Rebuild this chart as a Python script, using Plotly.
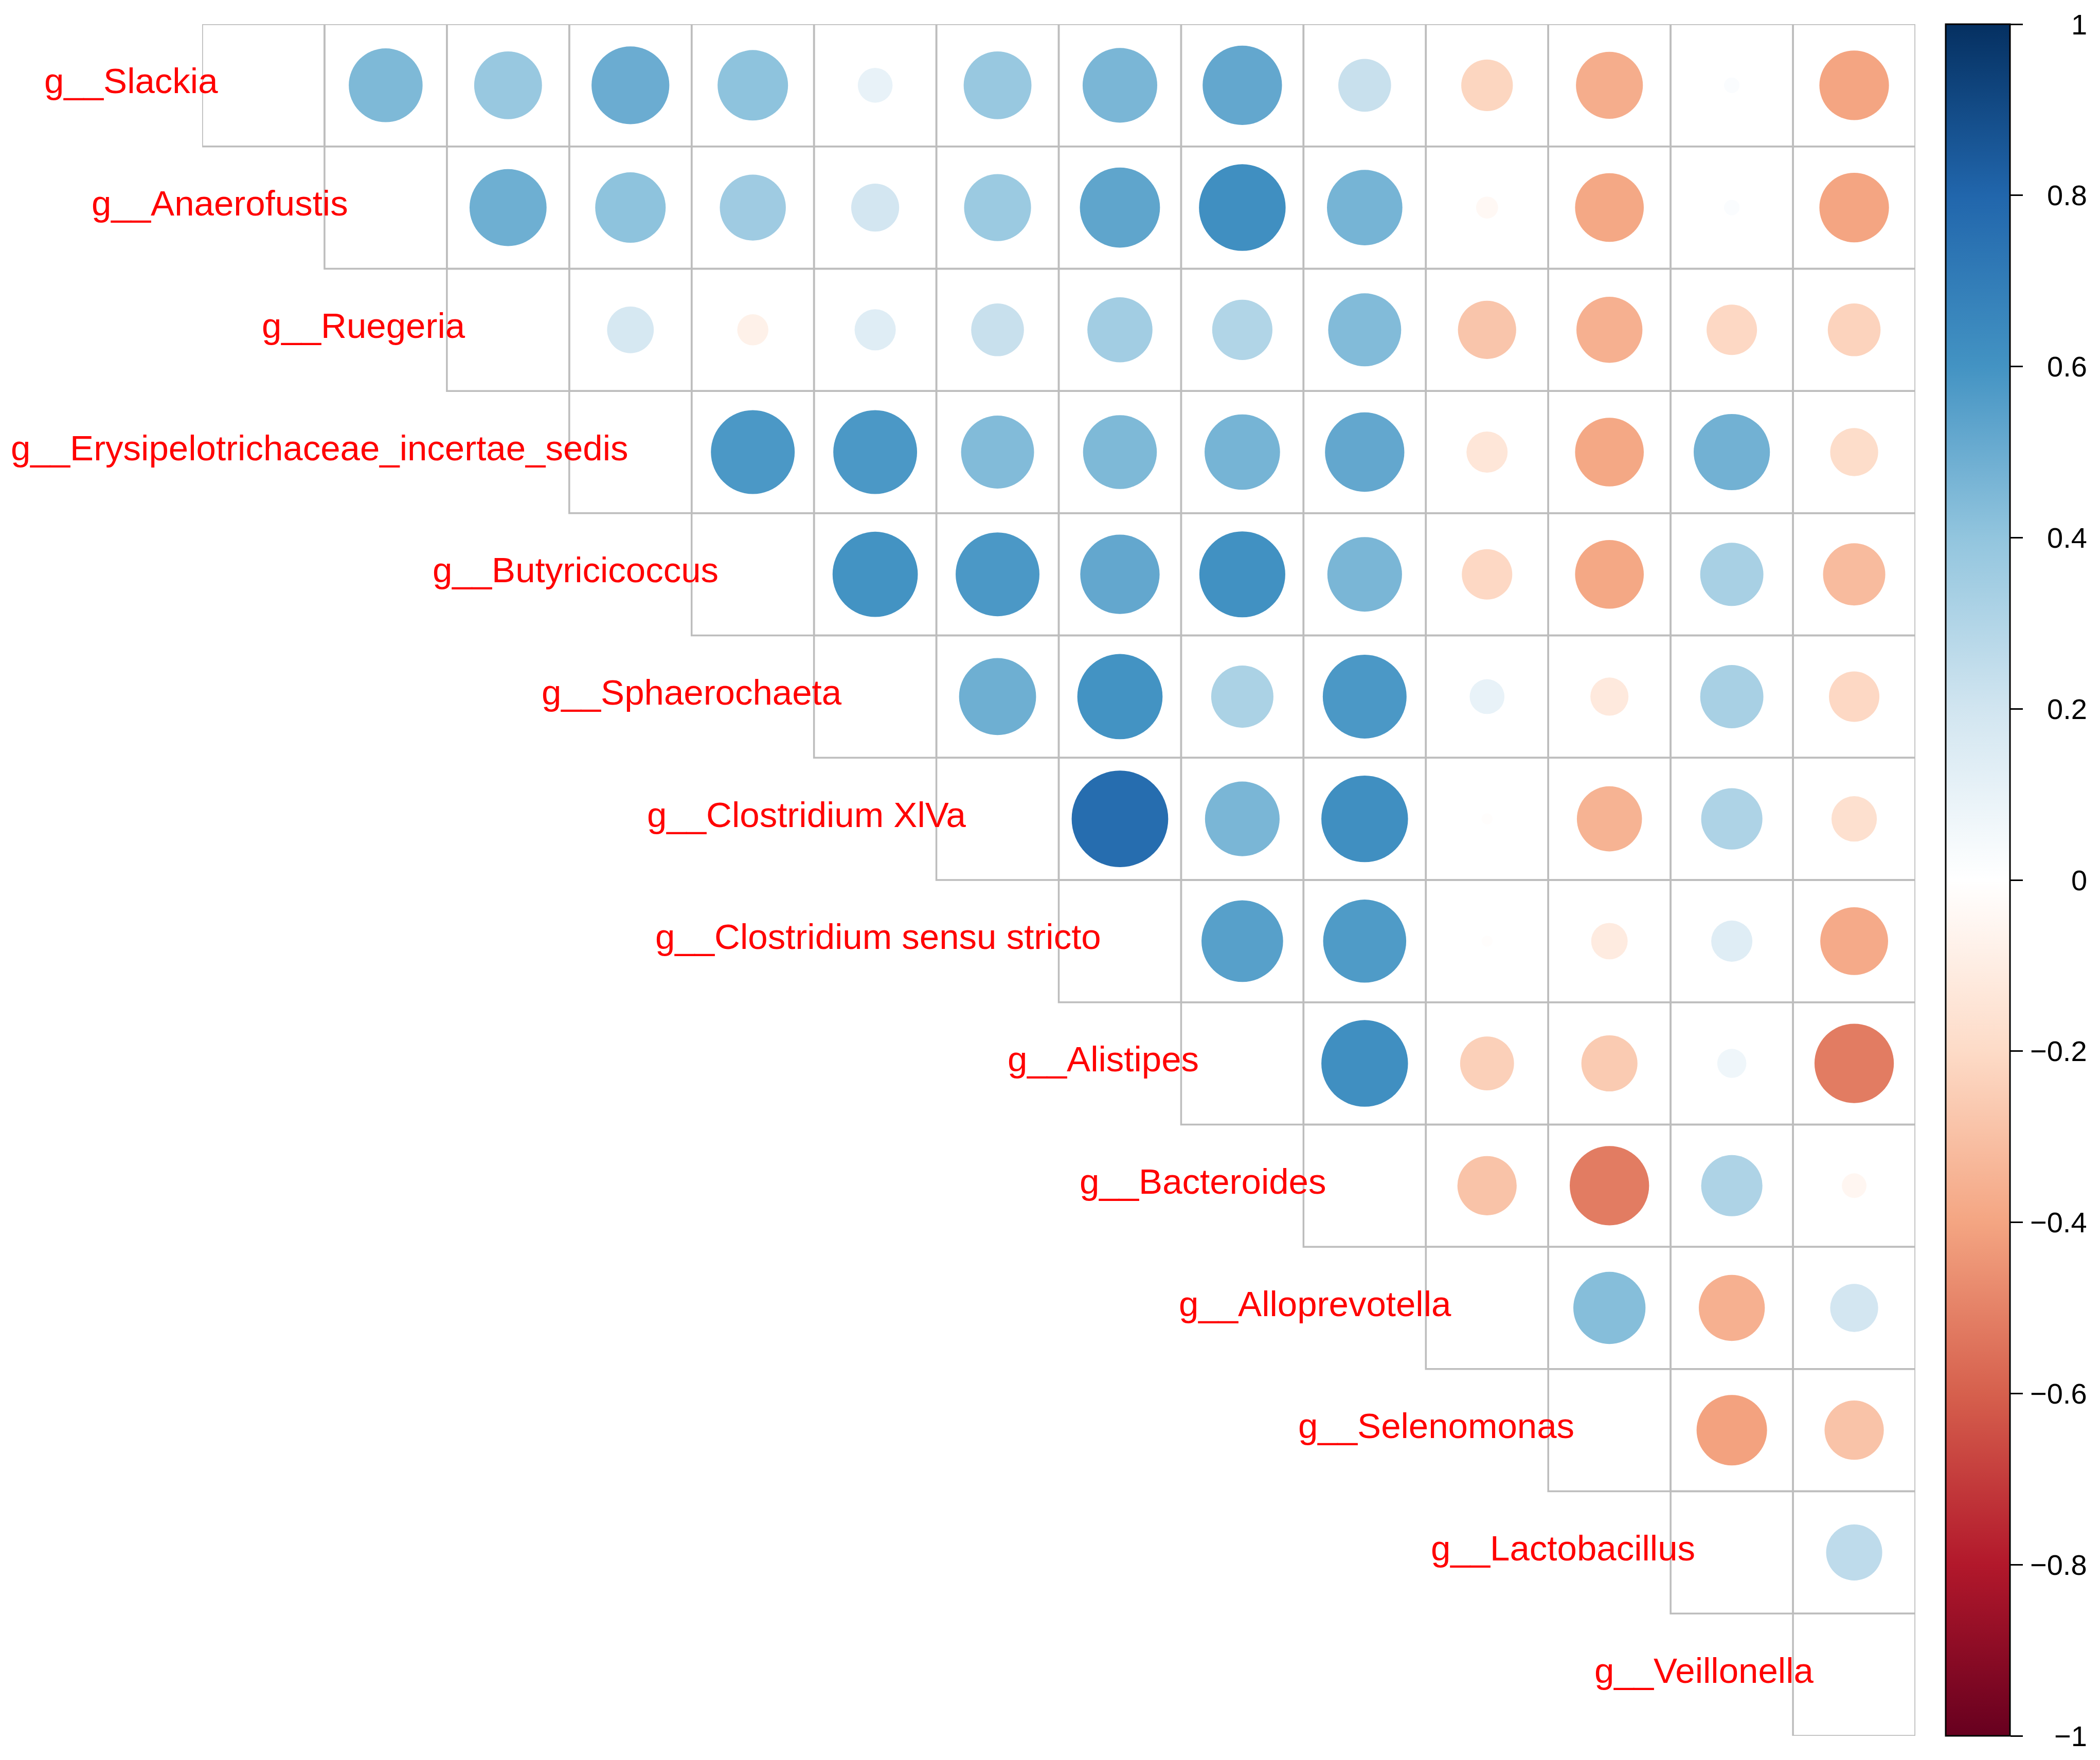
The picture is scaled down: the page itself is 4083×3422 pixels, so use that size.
import numpy as np
import plotly.graph_objects as go

genera = [
    "g__Slackia", "g__Anaerofustis", "g__Ruegeria",
    "g__Erysipelotrichaceae_incertae_sedis", "g__Butyricicoccus",
    "g__Sphaerochaeta", "g__Clostridium XlVa", "g__Clostridium sensu stricto",
    "g__Alistipes", "g__Bacteroides", "g__Alloprevotella", "g__Selenomonas",
    "g__Lactobacillus", "g__Veillonella",
]

# upper triangle, one list per row (columns to the right of the diagonal)
corr_slackia = [0.45, 0.38, 0.50, 0.41, 0.10, 0.38, 0.46, 0.52, 0.23, -0.22, -0.37, 0.02, -0.40]
corr_anaerofustis = [0.49, 0.41, 0.36, 0.19, 0.37, 0.53, 0.62, 0.47, -0.04, -0.39, 0.02, -0.40]
corr_ruegeria = [0.18, -0.08, 0.14, 0.23, 0.35, 0.30, 0.44, -0.28, -0.36, -0.21, -0.23]
corr_erysipelotrichaceae = [0.58, 0.58, 0.44, 0.45, 0.47, 0.52, -0.14, -0.39, 0.48, -0.19]
corr_butyricicoccus = [0.60, 0.58, 0.52, 0.61, 0.46, -0.21, -0.39, 0.33, -0.32]
corr_sphaerochaeta = [0.49, 0.60, 0.32, 0.58, 0.10, -0.12, 0.33, -0.21]
corr_clostridium_xlva = [0.77, 0.46, 0.62, -0.01, -0.35, 0.31, -0.17]
corr_clostridium_ss = [0.55, 0.57, -0.01, -0.11, 0.14, -0.38]
corr_alistipes = [0.62, -0.24, -0.26, 0.07, -0.52]
corr_bacteroides = [-0.29, -0.52, 0.31, -0.05]
corr_alloprevotella = [0.43, -0.36, 0.19]
corr_selenomonas = [-0.41, -0.29]
corr_lactobacillus = [0.26]

upper_rows = [
    corr_slackia, corr_anaerofustis, corr_ruegeria, corr_erysipelotrichaceae,
    corr_butyricicoccus, corr_sphaerochaeta, corr_clostridium_xlva,
    corr_clostridium_ss, corr_alistipes, corr_bacteroides,
    corr_alloprevotella, corr_selenomonas, corr_lactobacillus,
]

cbar_ticks = [1, 0.8, 0.6, 0.4, 0.2, 0, -0.2, -0.4, -0.6, -0.8, -1]

# corrplot's RdBu palette
rdbu = ["#67001F", "#B2182B", "#D6604D", "#F4A582", "#FDDBC7", "#FFFFFF",
        "#D1E5F0", "#92C5DE", "#4393C3", "#2166AC", "#053061"]
colorscale = [[k / (len(rdbu) - 1), c] for k, c in enumerate(rdbu)]

# page is 4083x3422; the browser adds an 8px body margin around the figure
body = 8
W, H = 4083 - 2 * body, 3422 - 2 * body
ml, mt = 393 - body, 47 - body
mr, mb = W - (3724 - body), H - (3375 - body)
plot_w = W - ml - mr
n = len(genera)
cell_px = (H - mt - mb) / n
label_size = 69

# Helvetica advance widths (1/1000 em), used to place the row labels
adv = {" ": 278, "A": 667, "B": 667, "C": 722, "E": 667, "L": 556, "R": 722,
       "S": 667, "V": 667, "X": 667, "_": 556, "a": 556, "b": 556, "c": 500,
       "d": 556, "e": 556, "f": 278, "g": 556, "h": 556, "i": 222, "k": 500,
       "l": 222, "m": 833, "n": 556, "o": 556, "p": 556, "r": 333, "s": 500,
       "t": 278, "u": 556, "v": 500, "y": 500}


def text_px(s):
    return sum(adv.get(ch, 556) for ch in s) / 1000 * label_size


xs, ys, vals = [], [], []
for i, row in enumerate(upper_rows):
    for k, v in enumerate(row):
        xs.append(i + 1 + k)
        ys.append(i)
        vals.append(v)
vals = np.array(vals)
sizes = 0.9 * cell_px * np.sqrt(np.abs(vals))

fig = go.Figure()
fig.add_trace(go.Scatter(
    x=xs, y=ys, mode="markers",
    marker=dict(
        size=sizes, color=vals, colorscale=colorscale, cmin=-1, cmax=1,
        line=dict(width=0), opacity=1,
        colorbar=dict(
            x=1 + 59 / plot_w, xanchor="left", xpad=0,
            y=0.5, yanchor="middle", len=1, lenmode="fraction", ypad=0,
            thickness=125, thicknessmode="pixels",
            outlinewidth=3, outlinecolor="black",
            tickvals=cbar_ticks, ticks="outside", ticklen=24,
            tickwidth=3, tickcolor="black", showticklabels=False,
        ),
    ),
    hoverinfo="skip", showlegend=False,
))

# grid of the upper triangle (diagonal cells included, left empty)
for i in range(n):
    for j in range(i, n):
        fig.add_shape(type="rect", xref="x", yref="y",
                      x0=j - 0.5, x1=j + 0.5, y0=i - 0.5, y1=i + 0.5,
                      line=dict(color="#BDBDBD", width=3.5), layer="below")

# row labels next to the diagonal (long names reach further into the cell)
for i, name in enumerate(genera):
    gap = (86 - 0.0975 * (text_px(name) - 338)) / cell_px
    fig.add_annotation(x=i - gap, y=i, xref="x", yref="y", text=name,
                       showarrow=False, xanchor="right", yanchor="middle",
                       yshift=8, font=dict(color="#FF0000", size=label_size))

# colorbar labels, right aligned like R's axis
for t in cbar_ticks:
    label = "0" if t == 0 else ("%g" % t).replace("-", "\u2212")
    fig.add_annotation(x=1 + (4060 - 3724) / plot_w, y=(t + 1) / 2,
                       xref="paper", yref="paper", text=label,
                       showarrow=False, xanchor="right", yanchor="middle",
                       font=dict(color="black", size=56))

fig.update_xaxes(range=[-0.5, n - 0.5], visible=False)
fig.update_yaxes(range=[n - 0.5, -0.5], visible=False)
fig.update_layout(
    width=W, height=H, autosize=False,
    margin=dict(l=ml, r=mr, t=mt, b=mb),
    plot_bgcolor="white", paper_bgcolor="white",
    font=dict(family="Liberation Sans, Arial, Helvetica, sans-serif"),
)

fig.write_html("out.html")
